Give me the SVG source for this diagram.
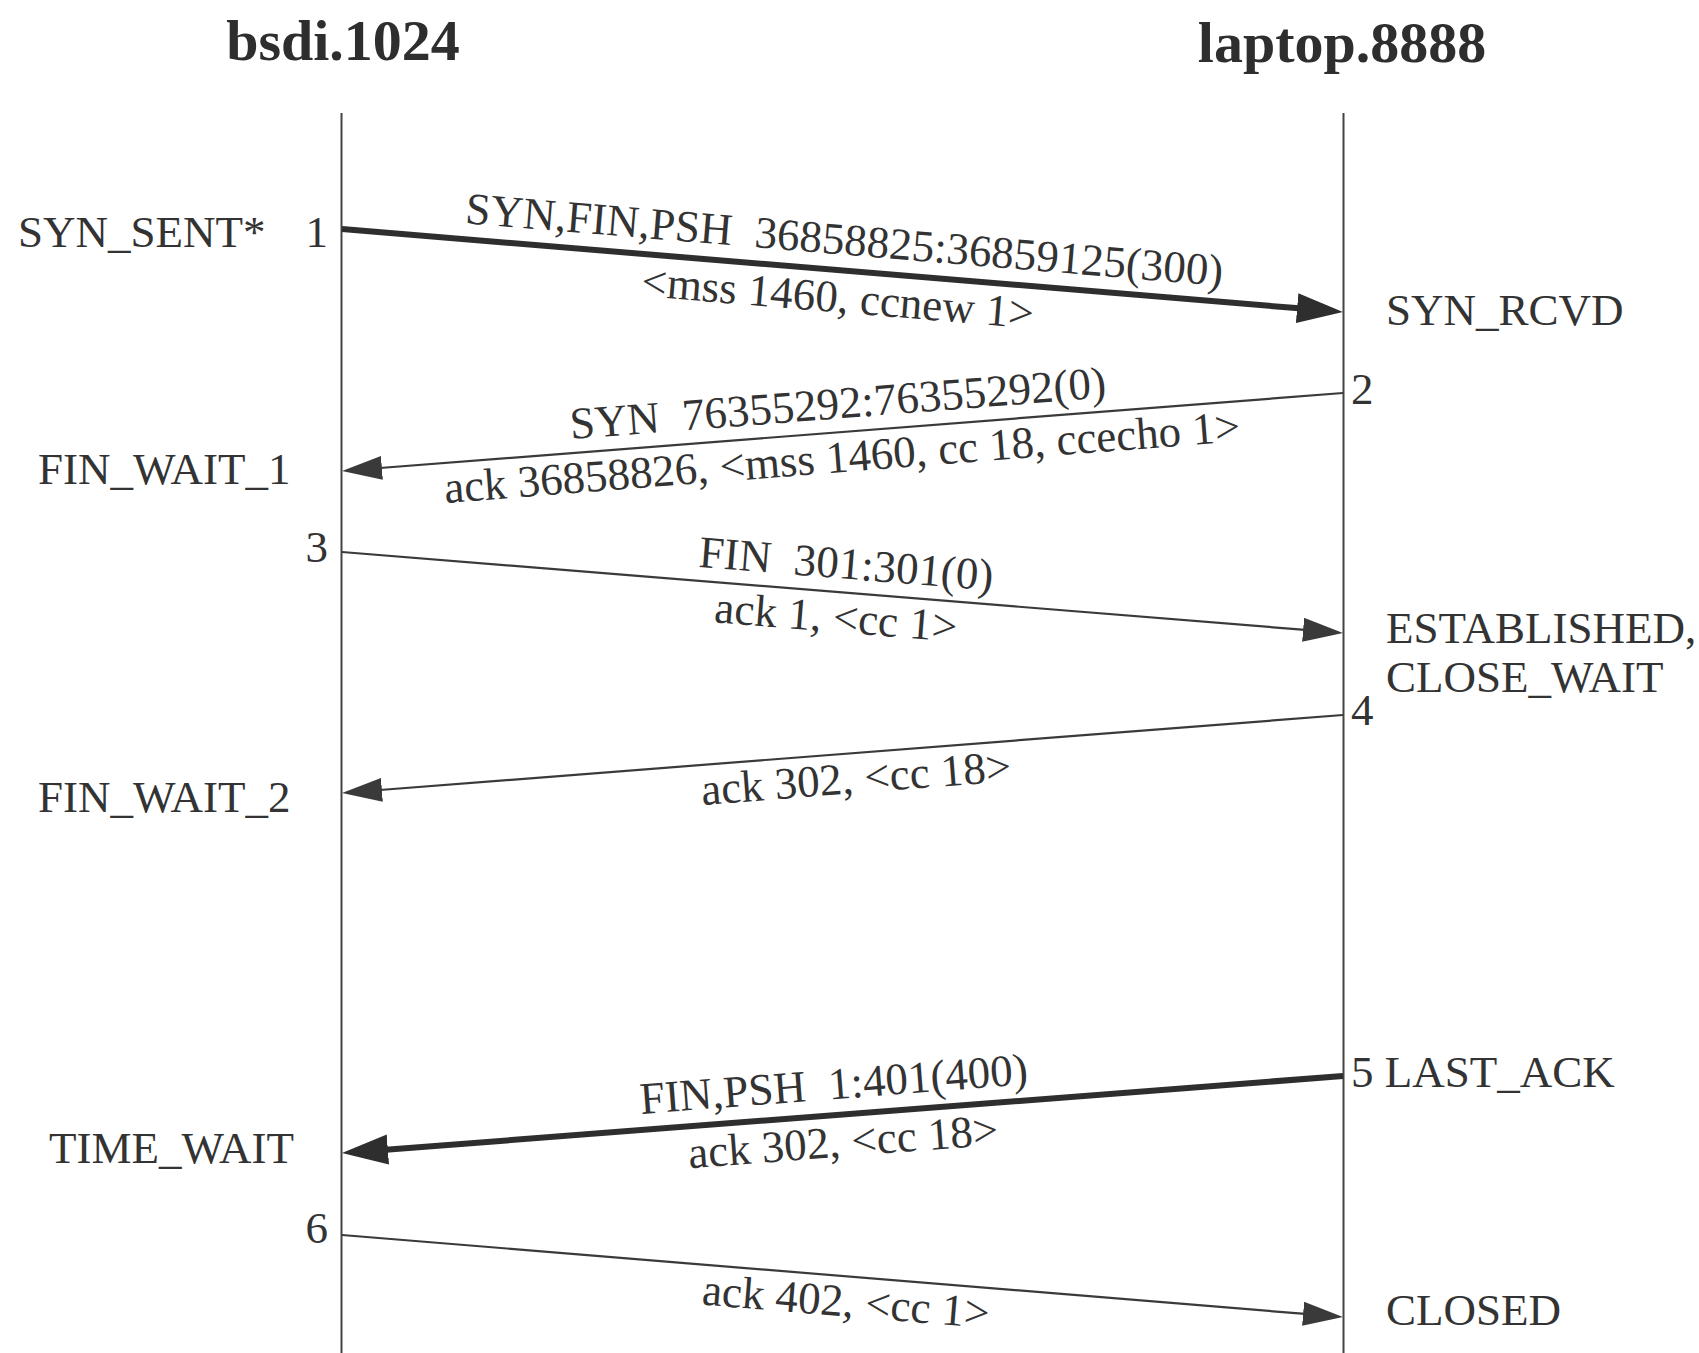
<svg xmlns="http://www.w3.org/2000/svg" width="1699" height="1353" viewBox="0 0 1699 1353">
<style>
text{font-family:"Liberation Serif","Times New Roman",serif;font-size:45px;fill:#333;white-space:pre}
.title{font-weight:bold;font-size:58px;text-anchor:middle;fill:#2e2e2e}
.mid{text-anchor:middle}
.end{text-anchor:end}
.life{stroke:#444;stroke-width:2;fill:none}
.thin{stroke:#3a3a3a;stroke-width:2.2;fill:none}
.thick{stroke:#2e2e2e;stroke-width:6;fill:none}
</style>
<defs>
<marker id="hThick" markerUnits="userSpaceOnUse" markerWidth="48" markerHeight="32" refX="2" refY="15" orient="auto"><path d="M0,0 L46,15 L0,30 z" fill="#2e2e2e"/></marker>
<marker id="hThin" markerUnits="userSpaceOnUse" markerWidth="42" markerHeight="26" refX="2" refY="12" orient="auto"><path d="M0,0 L40,12 L0,24 z" fill="#3a3a3a"/></marker>
</defs>
<rect width="1699" height="1353" fill="#ffffff"/>

<g id="bsdi">
<text class="title" x="343" y="60">bsdi.1024</text>
<line class="life" x1="341.5" y1="113" x2="341.5" y2="1353"/>
<text x="18" y="247">SYN_SENT*</text>
<text class="end" x="328" y="247">1</text>
<text x="38" y="484">FIN_WAIT_1</text>
<text class="end" x="328" y="562">3</text>
<text x="38" y="812">FIN_WAIT_2</text>
<text x="49" y="1163">TIME_WAIT</text>
<text class="end" x="328" y="1243">6</text>
</g>

<g id="laptop">
<text class="title" x="1342" y="62">laptop.8888</text>
<line class="life" x1="1343.5" y1="113" x2="1343.5" y2="1353"/>
<text x="1386" y="325">SYN_RCVD</text>
<text x="1351" y="404">2</text>
<text x="1386" y="643">ESTABLISHED,</text>
<text x="1386" y="692">CLOSE_WAIT</text>
<text x="1351" y="725">4</text>
<text x="1351" y="1087">5 LAST_ACK</text>
<text x="1386" y="1325">CLOSED</text>
</g>

<g id="connectors">
<line class="thick" x1="342" y1="229" x2="1299.1" y2="308.3" marker-end="url(#hThick)"/>
<line class="thin" x1="1343" y1="393" x2="379.9" y2="468.0" marker-end="url(#hThin)"/>
<line class="thin" x1="342" y1="552" x2="1305.1" y2="629.9" marker-end="url(#hThin)"/>
<line class="thin" x1="1343" y1="715" x2="379.9" y2="790.0" marker-end="url(#hThin)"/>
<line class="thick" x1="1343" y1="1076" x2="385.9" y2="1149.7" marker-end="url(#hThick)"/>
<line class="thin" x1="342" y1="1235" x2="1305.1" y2="1313.9" marker-end="url(#hThin)"/>
</g>

<g id="labels">
<g transform="translate(842,270.5) rotate(4.74)">
<text class="mid" x="0" y="-16" xml:space="preserve">SYN,FIN,PSH  36858825:36859125(300)</text>
<text class="mid" x="-2" y="42">&lt;mss 1460, ccnew 1&gt;</text>
</g>
<g transform="translate(840,432.2) rotate(-4.456)">
<text class="mid" x="0" y="-14" xml:space="preserve">SYN  76355292:76355292(0)</text>
<text class="mid" x="0" y="40">ack 36858826, &lt;mss 1460, cc 18, ccecho 1&gt;</text>
</g>
<g transform="translate(841,592.4) rotate(4.626)">
<text class="mid" x="3" y="-14" xml:space="preserve">FIN  301:301(0)</text>
<text class="mid" x="-3" y="40">ack 1, &lt;cc 1&gt;</text>
</g>
<g transform="translate(854,753.1) rotate(-4.456)">
<text class="mid" x="0" y="40">ack 302, &lt;cc 18&gt;</text>
</g>
<g transform="translate(838,1114.8) rotate(-4.40)">
<text class="mid" x="-2" y="-16" xml:space="preserve">FIN,PSH  1:401(400)</text>
<text class="mid" x="3" y="42">ack 302, &lt;cc 18&gt;</text>
</g>
<g transform="translate(848,1276.5) rotate(4.683)">
<text class="mid" x="0" y="40">ack 402, &lt;cc 1&gt;</text>
</g>
</g>
</svg>
